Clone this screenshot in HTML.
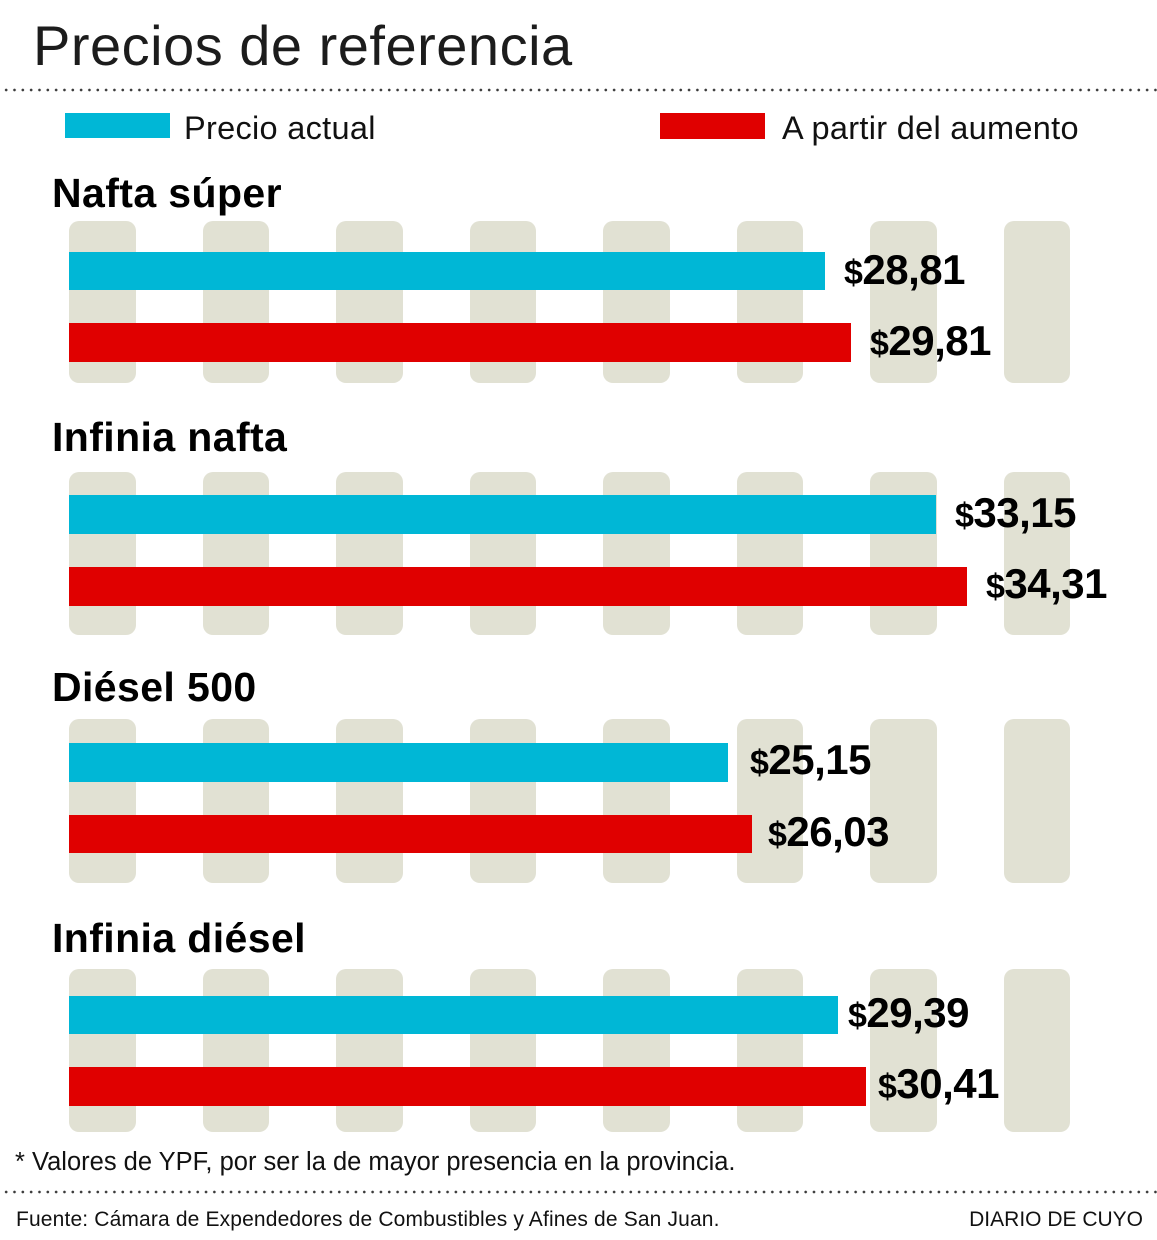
<!DOCTYPE html>
<html>
<head>
<meta charset="utf-8">
<style>
  html,body{margin:0;padding:0;background:#fff;}
  body{width:1157px;height:1240px;position:relative;overflow:hidden;font-family:"Liberation Sans",Arial,sans-serif;}
  .a{position:absolute;white-space:nowrap;line-height:1;}
  .title{left:33px;top:17.6px;font-size:56px;color:#1c1c1c;letter-spacing:0.5px;}
  .dots{position:absolute;left:2px;width:1155px;height:4px;
        background-image:radial-gradient(circle at center,#3a3a3a 0,#3a3a3a 1.1px,transparent 1.6px);
        background-size:8.33px 4px;background-repeat:repeat-x;}
  .leg{font-size:32.5px;color:#111;top:111.5px;letter-spacing:0.3px;}
  .sw{position:absolute;}
  .hdr{font-size:41px;font-weight:bold;color:#000;left:52px;letter-spacing:0.4px;}
  .col{position:absolute;width:66.5px;background:#e1e1d3;border-radius:10px;}
  .bar{position:absolute;left:69px;}
  .cy{background:#00b7d6;}
  .rd{background:#e00000;}
  .val{font-size:42px;font-weight:bold;color:#000;letter-spacing:-0.5px;}
  .val span{font-size:34px;}
  .note{font-size:25.5px;color:#111;left:15px;top:1150.4px;}
  .foot{font-size:21px;color:#111;top:1209.2px;}
</style>
</head>
<body>
<div class="a title">Precios de referencia</div>
<div class="dots" style="top:88px;"></div>

<div class="sw cy" style="left:65px;top:113px;width:105px;height:25px;"></div>
<div class="a leg" style="left:184px;">Precio actual</div>
<div class="sw rd" style="left:660px;top:112.5px;width:105px;height:26px;"></div>
<div class="a leg" style="left:782px;">A partir del aumento</div>

<!-- Section 1 -->
<div class="a hdr" style="top:173.3px;">Nafta súper</div>
<div class="col" style="left:69px;top:221px;height:162px;"></div>
<div class="col" style="left:202.5px;top:221px;height:162px;"></div>
<div class="col" style="left:336px;top:221px;height:162px;"></div>
<div class="col" style="left:469.5px;top:221px;height:162px;"></div>
<div class="col" style="left:603px;top:221px;height:162px;"></div>
<div class="col" style="left:736.5px;top:221px;height:162px;"></div>
<div class="col" style="left:870px;top:221px;height:162px;"></div>
<div class="col" style="left:1003.5px;top:221px;height:162px;"></div>
<div class="bar cy" style="top:252px;height:38px;width:756px;"></div>
<div class="bar rd" style="top:323px;height:39px;width:782px;"></div>
<div class="a val" style="left:844px;top:248.5px;"><span>$</span>28,81</div>
<div class="a val" style="left:870px;top:319.5px;"><span>$</span>29,81</div>

<!-- Section 2 -->
<div class="a hdr" style="top:417.3px;">Infinia nafta</div>
<div class="col" style="left:69px;top:472px;height:163px;"></div>
<div class="col" style="left:202.5px;top:472px;height:163px;"></div>
<div class="col" style="left:336px;top:472px;height:163px;"></div>
<div class="col" style="left:469.5px;top:472px;height:163px;"></div>
<div class="col" style="left:603px;top:472px;height:163px;"></div>
<div class="col" style="left:736.5px;top:472px;height:163px;"></div>
<div class="col" style="left:870px;top:472px;height:163px;"></div>
<div class="col" style="left:1003.5px;top:472px;height:163px;"></div>
<div class="bar cy" style="top:495px;height:39px;width:867px;"></div>
<div class="bar rd" style="top:567px;height:39px;width:898px;"></div>
<div class="a val" style="left:955px;top:491.5px;"><span>$</span>33,15</div>
<div class="a val" style="left:986px;top:562.5px;"><span>$</span>34,31</div>

<!-- Section 3 -->
<div class="a hdr" style="top:667.3px;">Diésel 500</div>
<div class="col" style="left:69px;top:719px;height:164px;"></div>
<div class="col" style="left:202.5px;top:719px;height:164px;"></div>
<div class="col" style="left:336px;top:719px;height:164px;"></div>
<div class="col" style="left:469.5px;top:719px;height:164px;"></div>
<div class="col" style="left:603px;top:719px;height:164px;"></div>
<div class="col" style="left:736.5px;top:719px;height:164px;"></div>
<div class="col" style="left:870px;top:719px;height:164px;"></div>
<div class="col" style="left:1003.5px;top:719px;height:164px;"></div>
<div class="bar cy" style="top:743px;height:39px;width:659px;"></div>
<div class="bar rd" style="top:815px;height:38px;width:683px;"></div>
<div class="a val" style="left:750px;top:738.5px;"><span>$</span>25,15</div>
<div class="a val" style="left:768px;top:810.5px;"><span>$</span>26,03</div>

<!-- Section 4 -->
<div class="a hdr" style="top:918.3px;">Infinia diésel</div>
<div class="col" style="left:69px;top:969px;height:163px;"></div>
<div class="col" style="left:202.5px;top:969px;height:163px;"></div>
<div class="col" style="left:336px;top:969px;height:163px;"></div>
<div class="col" style="left:469.5px;top:969px;height:163px;"></div>
<div class="col" style="left:603px;top:969px;height:163px;"></div>
<div class="col" style="left:736.5px;top:969px;height:163px;"></div>
<div class="col" style="left:870px;top:969px;height:163px;"></div>
<div class="col" style="left:1003.5px;top:969px;height:163px;"></div>
<div class="bar cy" style="top:996px;height:38px;width:769px;"></div>
<div class="bar rd" style="top:1067px;height:39px;width:797px;"></div>
<div class="a val" style="left:848px;top:991.5px;"><span>$</span>29,39</div>
<div class="a val" style="left:878px;top:1062.5px;"><span>$</span>30,41</div>

<div class="a note">* Valores de YPF, por ser la de mayor presencia en la provincia.</div>
<div class="dots" style="top:1190px;"></div>
<div class="a foot" style="left:16px;letter-spacing:0.15px;">Fuente: Cámara de Expendedores de Combustibles y Afines de San Juan.</div>
<div class="a foot" style="right:14px;">DIARIO DE CUYO</div>
</body>
</html>
